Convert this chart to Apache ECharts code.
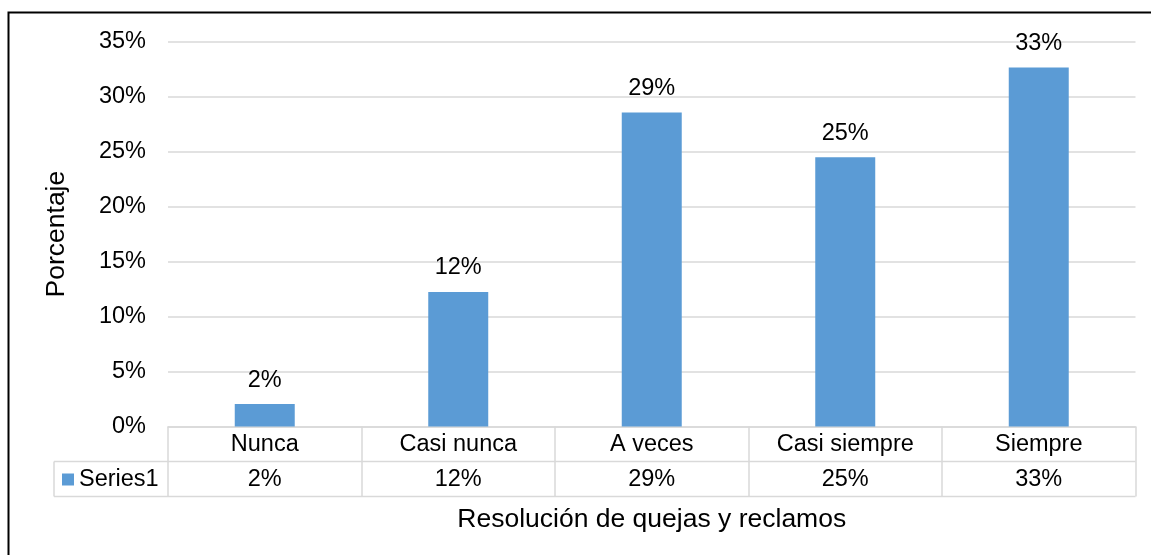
<!DOCTYPE html>
<html>
<head>
<meta charset="utf-8">
<title>Resolución de quejas y reclamos</title>
<script src="https://cdn.jsdelivr.net/npm/echarts@6/dist/echarts.min.js"></script>
<style>
  html, body { margin: 0; padding: 0; background: #fff; }
  #chart { width: 1151px; height: 555px; }
</style>
</head>
<body>
<div id="chart"></div>
<script>
// datos del gráfico
const categories = ['Nunca', 'Casi nunca', 'A veces', 'Casi siempre', 'Siempre']
const seriesName = 'Series1'
const seriesValues = [0.0204, 0.1224, 0.2857, 0.245, 0.3265]
const yTicks = { min: 0, max: 0.35, interval: 0.05 }

const FONT = '"Liberation Sans", Arial, sans-serif'
const LINE = '#d9d9d9'
const BAR = '#5b9bd5'
const FS = 23.5
const FS_TITLE = 26.5

// geometría de la rejilla
const gridLeft = 168
const gridRight = 15.5
const gridTop = 41.7
const gridBottom = 128.5
const rowH = 35
const legendCellLeft = 54

const pct = v => Math.round(v * 100) + '%'

const chart = echarts.init(document.getElementById('chart'))

const W = 1151
const H = 555
const axisY = H - gridBottom
const plotRight = W - gridRight

chart.setOption({
  animation: false,
  textStyle: { fontFamily: FONT },
  grid: { left: gridLeft, right: gridRight, top: gridTop, bottom: gridBottom, containLabel: false },
  legend: {
    data: [seriesName],
    left: 62,
    top: axisY + rowH + 6,
    padding: 0,
    itemWidth: 12,
    itemHeight: 12,
    icon: 'rect',
    textStyle: { fontSize: FS, color: '#000', fontFamily: FONT }
  },
  xAxis: [
    {
      type: 'category',
      data: categories,
      name: 'Resolución de quejas y reclamos',
      nameLocation: 'middle',
      nameGap: 80,
      nameTextStyle: { fontSize: FS_TITLE, color: '#000', fontFamily: FONT },
      axisLine: { show: true, lineStyle: { color: LINE, width: 1.5 } },
      axisTick: { show: true, interval: 0, length: rowH * 2, lineStyle: { color: LINE, width: 1.5 } },
      axisLabel: { interval: 0, fontSize: FS, color: '#000', margin: 6, fontFamily: FONT }
    },
    {
      type: 'category',
      position: 'bottom',
      offset: rowH,
      data: seriesValues.map(pct),
      axisLine: { show: false },
      axisTick: { show: false },
      axisLabel: { interval: 0, fontSize: FS, color: '#000', margin: 6, fontFamily: FONT }
    }
  ],
  yAxis: {
    type: 'value',
    min: yTicks.min,
    max: yTicks.max,
    interval: yTicks.interval,
    name: 'Porcentaje',
    nameLocation: 'middle',
    nameGap: 98,
    nameRotate: 90,
    nameTextStyle: { fontSize: FS_TITLE, color: '#000', fontFamily: FONT },
    axisLine: { show: false },
    axisTick: { show: false },
    axisLabel: { fontSize: FS, color: '#000', margin: 22, formatter: v => pct(v), fontFamily: FONT },
    splitLine: { lineStyle: { color: LINE, width: 1.5 } }
  },
  series: [{
    name: seriesName,
    type: 'bar',
    xAxisIndex: 0,
    data: seriesValues,
    barWidth: '31%',
    itemStyle: { color: BAR },
    label: {
      show: true,
      position: 'top',
      distance: 12,
      fontSize: FS,
      color: '#000',
      fontFamily: FONT,
      formatter: p => pct(p.value)
    }
  }],
  graphic: [
    // marco exterior
    {
      type: 'rect', silent: true, z: -1,
      shape: { x: 8.5, y: 12.5, width: 1300, height: 700 },
      style: { fill: null, stroke: '#000', lineWidth: 2 }
    },
    // líneas de la tabla de datos
    {
      type: 'line', silent: true,
      shape: { x1: legendCellLeft, y1: axisY + rowH, x2: plotRight, y2: axisY + rowH },
      style: { stroke: LINE, lineWidth: 1.5 }
    },
    {
      type: 'line', silent: true,
      shape: { x1: legendCellLeft, y1: axisY + rowH * 2, x2: plotRight, y2: axisY + rowH * 2 },
      style: { stroke: LINE, lineWidth: 1.5 }
    },
    {
      type: 'line', silent: true,
      shape: { x1: legendCellLeft, y1: axisY + rowH, x2: legendCellLeft, y2: axisY + rowH * 2 },
      style: { stroke: LINE, lineWidth: 1.5 }
    }
  ]
})

window.addEventListener('resize', () => chart.resize())
</script>
</body>
</html>
